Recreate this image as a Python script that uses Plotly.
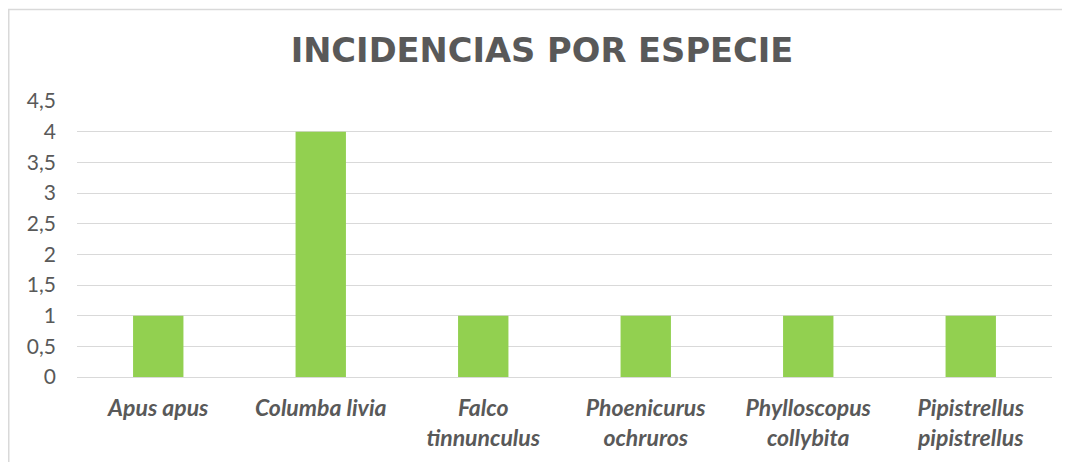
import plotly.graph_objects as go

categories = ["Apus apus", "Columba livia", "Falco<br>tinnunculus", "Phoenicurus<br>ochruros",
              "Phylloscopus<br>collybita", "Pipistrellus<br>pipistrellus"]
values = [1, 4, 1, 1, 1, 1]
title = "INCIDENCIAS POR ESPECIE"

# page body has an 8px default margin; work in window pixels and offset
OFF = 8
W, H = 1070 - OFF, 462 - OFF
L, T = 77 - OFF, 101 - OFF
R = W - (1052 - OFF)
B = H - (377 - OFF)
pw, ph = W - L - R, H - T - B

fig = go.Figure(go.Bar(x=categories, y=values, marker=dict(color="#92d050", line=dict(width=0)),
                       width=0.31))
font = "Lato, 'Open Sans', sans-serif"
fig.update_layout(
    width=W, height=H, margin=dict(l=L, r=R, t=T, b=B),
    paper_bgcolor="white", plot_bgcolor="white", separators=", ",
    showlegend=False,
    title=dict(text="<b>" + title + "</b>", x=(542 - OFF) / W, xanchor="center",
               y=1 - (50 - OFF) / H, yanchor="middle",
               font=dict(family="'DejaVu Sans', sans-serif", size=33.7, color="#595959")),
    font=dict(family=font, color="#595959"),
)
fig.update_yaxes(range=[0, 4.5], dtick=0.5, tick0=0, showgrid=True, gridcolor="#d9d9d9", gridwidth=1,
                 zeroline=True, zerolinecolor="#d9d9d9", zerolinewidth=1, showline=False,
                 tickfont=dict(family=font, size=21, color="#595959"), ticklabelstandoff=20,
                 tickformat=".1~f")
fig.update_xaxes(showline=False, showgrid=False, ticks="",
                 tickfont=dict(family=font, size=23, color="#595959", weight="bold", style="italic"),
                 ticklabelstandoff=15)
fig.add_shape(type="rect", xref="paper", yref="paper",
              x0=(8.75 - 77) / pw, x1=(1075 - 77) / pw,
              y0=(377 - 470) / ph, y1=(377 - 9.5) / ph,
              line=dict(color="#d9d9d9", width=1.5), fillcolor="rgba(0,0,0,0)", layer="below")
fig.write_html("out.html")
